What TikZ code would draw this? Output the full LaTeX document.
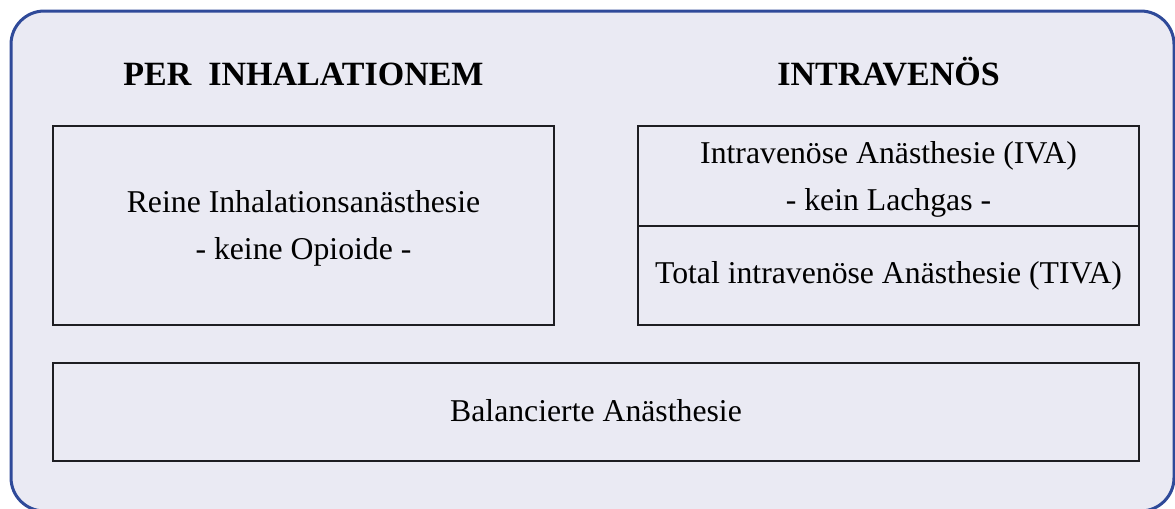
\documentclass[tikz,border=0pt]{standalone}
\usepackage{fontspec}
\setmainfont{Liberation Serif}
\usepackage{tikz}
\definecolor{rahmenblau}{RGB}{47,74,153}
\definecolor{flaeche}{RGB}{234,234,243}
\definecolor{linie}{RGB}{30,30,34}

\begin{document}
\begin{tikzpicture}[x=0.75pt,y=0.75pt,yscale=-1,xscale=1,
  kasten/.style={draw=linie,line width=1.1pt},
  txt/.style={inner sep=0pt,align=center,font={\fontsize{23.8}{35.25}\selectfont}},
  kopf/.style={inner sep=0pt,anchor=base,font={\fontsize{25.5}{30}\selectfont\bfseries}}]
%set diagram size 1175 x 508
\useasboundingbox (0,0) rectangle (1175,508);

%Shape: Rounded Rect [outer frame]
\draw [draw=rahmenblau,fill=flaeche,line width=2.25pt,rounded corners=25pt] (11,11) rectangle (1174,511) ;

%Shape: Rectangle [left box]
\draw [kasten] (53,126) rectangle (554,325) ;
%Shape: Rectangle [right box]
\draw [kasten] (638,126) rectangle (1139,325) ;
%Straight Lines [right box split]
\draw [kasten] (638,226) -- (1139,226) ;
%Shape: Rectangle [bottom box]
\draw [kasten] (53,363) rectangle (1139,461) ;

% Text Node
\node (inhal) [kopf] at (303.5,85) {PER\ \ INHALATIONEM};
% Text Node
\node (iv) [kopf] at (888.5,85) {INTRAVENÖS};
% Text Node
\node (reine) [txt] at (303.5,228) {Reine Inhalationsanästhesie\\- keine Opioide -};
% Text Node
\node (iva) [txt] at (888.5,179) {Intravenöse Anästhesie (IVA)\\- kein Lachgas -};
% Text Node
\node (tiva) [txt] at (888.5,276) {Total intravenöse Anästhesie (TIVA)};
% Text Node
\node (bal) [txt] at (596,411) {Balancierte Anästhesie};

\end{tikzpicture}
\end{document}
